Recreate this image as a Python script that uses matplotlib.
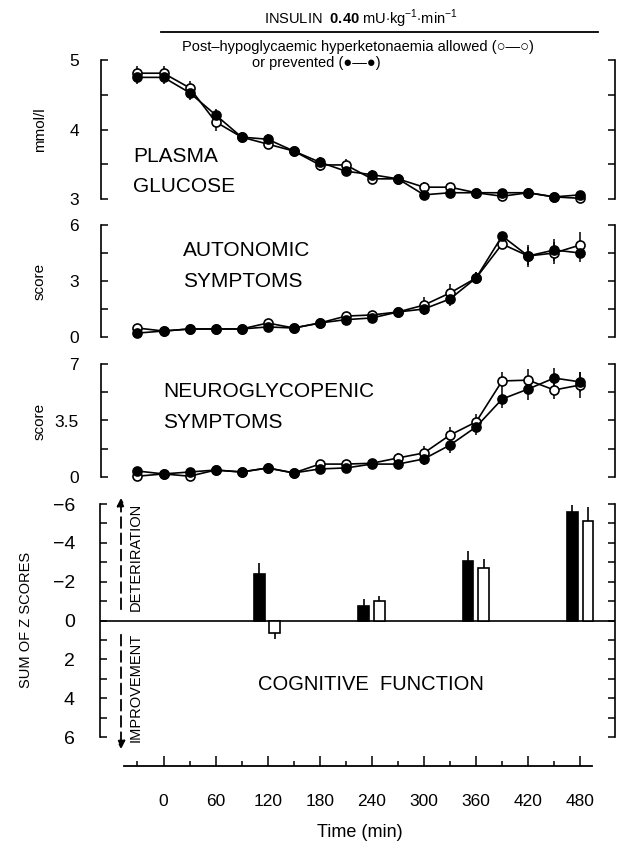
import matplotlib
matplotlib.use("Agg")
import matplotlib.pyplot as plt
import numpy as np
from matplotlib.lines import Line2D
from matplotlib.patches import FancyArrowPatch

plt.rcParams['font.family'] = ['Liberation Sans', 'DejaVu Sans']
plt.rcParams['mathtext.fontset'] = 'custom'
plt.rcParams['mathtext.rm'] = 'Liberation Sans'
plt.rcParams['mathtext.bf'] = 'Liberation Sans:bold'

# ---------------- data ----------------
time = [-30, 0, 30, 60, 90, 120, 150, 180, 210, 240, 270, 300, 330, 360, 390, 420, 450, 480]

glucose_allowed = [4.81, 4.81, 4.60, 4.11, 3.89, 3.79, 3.69, 3.49, 3.49, 3.29, 3.29, 3.17, 3.17, 3.09, 3.04, 3.09, 3.03, 3.01]
glucose_prevented = [4.75, 4.75, 4.53, 4.21, 3.89, 3.86, 3.69, 3.53, 3.40, 3.35, 3.29, 3.06, 3.09, 3.09, 3.09, 3.09, 3.03, 3.06]
glucose_allowed_err = [0.10, 0.10, 0.10, 0.13, 0.07, 0.07, 0.06, 0.08, 0.08, 0.07, 0.06, 0.07, 0.05, 0.05, 0.06, 0.05, 0.04, 0.04]
glucose_prevented_err = [0.10, 0.10, 0.10, 0.08, 0.07, 0.07, 0.06, 0.07, 0.06, 0.07, 0.06, 0.06, 0.05, 0.05, 0.05, 0.05, 0.04, 0.04]

autonomic_allowed = [0.48, 0.32, 0.43, 0.43, 0.43, 0.75, 0.48, 0.75, 1.12, 1.18, 1.34, 1.71, 2.36, 3.16, 4.98, 4.34, 4.50, 4.93]
autonomic_prevented = [0.21, 0.32, 0.43, 0.43, 0.43, 0.54, 0.48, 0.75, 0.93, 1.02, 1.34, 1.50, 2.04, 3.16, 5.41, 4.34, 4.66, 4.50]
autonomic_allowed_err = [0.10, 0.08, 0.08, 0.08, 0.08, 0.10, 0.08, 0.10, 0.15, 0.15, 0.15, 0.45, 0.50, 0.30, 0.20, 0.60, 0.60, 0.70]
autonomic_prevented_err = [0.08, 0.08, 0.08, 0.08, 0.08, 0.10, 0.08, 0.10, 0.12, 0.12, 0.15, 0.30, 0.40, 0.30, 0.20, 0.50, 0.60, 0.50]

neuro_allowed = [0.05, 0.19, 0.05, 0.43, 0.31, 0.56, 0.25, 0.80, 0.80, 0.85, 1.18, 1.49, 2.60, 3.41, 5.95, 6.00, 5.39, 5.70]
neuro_prevented = [0.37, 0.19, 0.31, 0.43, 0.31, 0.56, 0.25, 0.50, 0.56, 0.80, 0.80, 1.12, 1.98, 3.10, 4.83, 5.45, 6.13, 5.89]
neuro_allowed_err = [0.10, 0.10, 0.10, 0.10, 0.10, 0.10, 0.10, 0.15, 0.15, 0.20, 0.30, 0.40, 0.50, 0.50, 0.55, 0.70, 0.55, 0.80]
neuro_prevented_err = [0.10, 0.10, 0.10, 0.10, 0.10, 0.10, 0.10, 0.15, 0.15, 0.20, 0.30, 0.40, 0.50, 0.50, 0.55, 0.70, 0.60, 0.60]

cog_times = [120, 240, 360, 480]
cog_prevented = [-2.37, -0.77, -3.04, -5.57]
cog_prevented_err = [0.60, 0.36, 0.55, 0.36]
cog_allowed = [0.62, -0.98, -2.68, -5.15]
cog_allowed_err = [0.35, 0.26, 0.50, 0.72]

x_ticks = [0, 60, 120, 180, 240, 300, 360, 420, 480]

# ---------------- figure ----------------
W, H = 620, 846
fig = plt.figure(figsize=(W / 100, H / 100), dpi=100)

XLIM = (-72, 520)


def rect(left, right, top, bottom):
    return [left / W, 1 - bottom / H, (right - left) / W, (bottom - top) / H]


def style_panel(ax, ylim, ticks, labels):
    ax.set_xlim(*XLIM)
    ax.set_ylim(*ylim)
    for s in ['top', 'bottom']:
        ax.spines[s].set_visible(False)
    for s in ['left', 'right']:
        ax.spines[s].set_linewidth(1.2)
    ax.set_xticks([])
    ax.set_yticks(ticks)
    ax.set_yticklabels(labels)
    ax.tick_params(axis='y', direction='in', length=5, width=1.1, left=True, right=True,
                   labelsize=12.5, pad=16)
    ax.patch.set_alpha(0)


def plot_series(ax, y_open, e_open, y_fill, e_fill):
    ax.errorbar(time, y_open, yerr=e_open, fmt='none', ecolor='black', elinewidth=1.1, capsize=0,
                zorder=2, clip_on=False)
    ax.errorbar(time, y_fill, yerr=e_fill, fmt='none', ecolor='black', elinewidth=1.1, capsize=0,
                zorder=2, clip_on=False)
    ax.plot(time, y_open, '-', color='black', lw=1.2, marker='o', ms=6.5, mfc='white', mec='black',
            mew=1.2, zorder=3, clip_on=False)
    ax.plot(time, y_fill, '-', color='black', lw=1.2, marker='o', ms=6.5, mfc='black', mec='black',
            mew=1.2, zorder=4, clip_on=False)


# Panel 1: plasma glucose
ax1 = fig.add_axes(rect(101, 615, 60, 199))
style_panel(ax1, (3, 5), [3, 3.5, 4, 4.5, 5], ['3', '', '4', '', '5'])
plot_series(ax1, glucose_allowed, glucose_allowed_err, glucose_prevented, glucose_prevented_err)
ax1.text(-35, 3.40, 'PLASMA\nGLUCOSE', fontsize=15, ha='left', va='center', linespacing=1.75)

# Panel 2: autonomic symptoms
ax2 = fig.add_axes(rect(101, 615, 225, 337))
style_panel(ax2, (0, 6), [0, 1.5, 3, 4.5, 6], ['0', '', '3', '', '6'])
plot_series(ax2, autonomic_allowed, autonomic_allowed_err, autonomic_prevented, autonomic_prevented_err)
ax2.text(22, 3.80, 'AUTONOMIC\nSYMPTOMS', fontsize=15, ha='left', va='center', linespacing=1.75)

# Panel 3: neuroglycopenic symptoms
ax3 = fig.add_axes(rect(101, 615, 364, 477))
style_panel(ax3, (0, 7), [0, 1.75, 3.5, 5.25, 7], ['0', '', '3.5', '', '7'])
plot_series(ax3, neuro_allowed, neuro_allowed_err, neuro_prevented, neuro_prevented_err)
ax3.text(0, 4.34, 'NEUROGLYCOPENIC\nSYMPTOMS', fontsize=15, ha='left', va='center', linespacing=1.75)

# Panel 4: cognitive function
ax4 = fig.add_axes(rect(100, 615, 504, 737))
style_panel(ax4, (6, -6), list(range(-6, 7)),
            ['\u22126', '', '\u22124', '', '\u22122', '', '0', '', '2', '', '4', '', '6'])
ax4.tick_params(axis='y', labelsize=14, pad=18)
ax4.axhline(0, color='black', lw=1.2, zorder=1)
off, bw = 9, 12.5
xb = np.array(cog_times, dtype=float)
cp = np.array(cog_prevented)
ca = np.array(cog_allowed)
ep = np.array(cog_prevented_err)
ea = np.array(cog_allowed_err)
ax4.bar(xb - off, cp, width=bw, color='black', edgecolor='black', lw=1.2, zorder=3)
ax4.bar(xb + off, ca, width=bw, color='white', edgecolor='black', lw=1.2, zorder=3)
ax4.errorbar(xb - off, cp, yerr=[np.where(cp < 0, ep, 0), np.where(cp > 0, ep, 0)],
             fmt='none', ecolor='black', elinewidth=1.2, capsize=0, zorder=2)
ax4.errorbar(xb + off, ca, yerr=[np.where(ca < 0, ea, 0), np.where(ca > 0, ea, 0)],
             fmt='none', ecolor='black', elinewidth=1.2, capsize=0, zorder=2)
ax4.text(239, 3.3, 'COGNITIVE  FUNCTION', fontsize=14.5, ha='center', va='center')

# dashed arrows
arrow_x = 121
for (ys, ye) in [(612, 495), (632, 752)]:
    fig.add_artist(FancyArrowPatch((arrow_x / W, 1 - ys / H), (arrow_x / W, 1 - ye / H),
                                   transform=fig.transFigure, arrowstyle='-|>', mutation_scale=12,
                                   color='black', lw=1.3, linestyle=(0, (6, 3))))
fig.text(136 / W, 1 - 557 / H, 'DETERIRATION', rotation=90, ha='center', va='center', fontsize=10.5)
fig.text(136 / W, 1 - 687 / H, 'IMPROVEMENT', rotation=90, ha='center', va='center', fontsize=10.5)

# Bottom time axis
axb = fig.add_axes([101 / W, 1 - 766 / H, (615 - 101) / W, 0.01])
axb.set_xlim(*XLIM)
axb.set_yticks([])
for s in ['top', 'left', 'right']:
    axb.spines[s].set_visible(False)
axb.spines['bottom'].set_bounds(-46, 494)
axb.spines['bottom'].set_linewidth(1.3)
axb.set_xticks(x_ticks)
axb.set_xticklabels([str(t) for t in x_ticks])
axb.set_xticks([-30, 30, 90, 150, 210, 270, 330, 390, 450], minor=True)
axb.tick_params(axis='x', which='major', direction='in', length=7, width=1.1, labelsize=12.5, pad=20)
axb.tick_params(axis='x', which='minor', direction='in', length=3.5, width=1.1)
axb.patch.set_alpha(0)
fig.text(360 / W, 1 - 832 / H, 'Time (min)', ha='center', va='center', fontsize=13)

# y labels
fig.text(40 / W, 1 - 130 / H, 'mmol/l', rotation=90, ha='center', va='center', fontsize=11)
fig.text(40 / W, 1 - 281 / H, 'score', rotation=90, ha='center', va='center', fontsize=11)
fig.text(40 / W, 1 - 421 / H, 'score', rotation=90, ha='center', va='center', fontsize=11)
fig.text(26 / W, 1 - 620 / H, 'SUM OF Z SCORES', rotation=90, ha='center', va='center', fontsize=10.5)

# header
fig.text(361 / W, 1 - 19 / H,
         r'INSULIN  $\mathbf{0.40}$ mU$\cdot$kg$^{-1}$$\cdot$min$^{-1}$',
         ha='center', va='center', fontsize=10.5)
fig.add_artist(Line2D([161 / W, 598 / W], [1 - 32 / H, 1 - 32 / H], transform=fig.transFigure,
                      color='black', lw=1.3))
fig.text(358 / W, 1 - 47 / H, 'Post\u2013hypoglycaemic hyperketonaemia allowed (\u25cb\u2014\u25cb)',
         ha='center', va='center', fontsize=10.5)
fig.text(316 / W, 1 - 63 / H, 'or prevented (\u25cf\u2014\u25cf)', ha='center', va='center', fontsize=10.5)

fig.savefig('out.png', dpi=100)
